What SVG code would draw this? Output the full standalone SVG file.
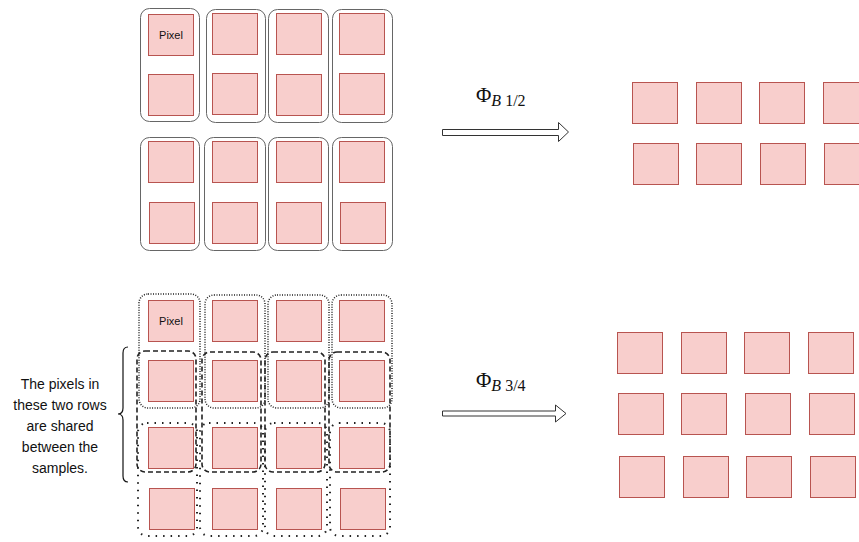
<svg xmlns="http://www.w3.org/2000/svg" width="859" height="542" viewBox="0 0 859 542">
<style>
.px{fill:#f8cecc;stroke:#b85450;stroke-width:1}
.box{fill:none;stroke:#666;stroke-width:1}
.dotA{fill:none;stroke:#222;stroke-width:1.5;stroke-dasharray:1 1.5}
.dotB{fill:none;stroke:#222;stroke-width:2;stroke-dasharray:1.5 6}
.dash{fill:none;stroke:#222;stroke-width:1.6;stroke-dasharray:5 3}
.lbl{font-family:"Liberation Sans",Arial,sans-serif;font-size:11px;fill:#111;text-anchor:middle}
.note{font-family:"Liberation Sans",Arial,sans-serif;font-size:14px;fill:#111;text-anchor:middle}
.phi{font-family:"Liberation Serif","Times New Roman",serif;fill:#111}
.arr{fill:#fff;stroke:#333;stroke-width:1}
</style>
<defs>
<rect id="p" class="px" width="45" height="41"/>
</defs>

<g id="top-left">
  <g id="tl-boxes">
    <rect class="box" x="140.5" y="8.5" width="59" height="113" rx="9"/>
    <rect class="box" x="206.5" y="9.5" width="59" height="113" rx="9"/>
    <rect class="box" x="268.5" y="9.5" width="60" height="113" rx="9"/>
    <rect class="box" x="332.5" y="9.5" width="60" height="113" rx="9"/>
    <rect class="box" x="140.5" y="137.5" width="59" height="113" rx="9"/>
    <rect class="box" x="204.5" y="137.5" width="61" height="113" rx="9"/>
    <rect class="box" x="268.5" y="137.5" width="60" height="113" rx="9"/>
    <rect class="box" x="332.5" y="137.5" width="60" height="113" rx="9"/>
  </g>
  <g id="tl-pixels">
    <use href="#p" x="148.5" y="14.5"/><use href="#p" x="212.5" y="13.5"/><use href="#p" x="276.5" y="13.5"/><use href="#p" x="339.5" y="13.5"/>
    <use href="#p" x="148.5" y="74.5"/><use href="#p" x="212.5" y="73.5"/><use href="#p" x="276.5" y="74.5"/><use href="#p" x="339.5" y="73.5"/>
    <use href="#p" x="148.5" y="141.5"/><use href="#p" x="212.5" y="141.5"/><use href="#p" x="276.5" y="141.5"/><use href="#p" x="339.5" y="141.5"/>
    <use href="#p" x="149.5" y="202.5"/><use href="#p" x="212.5" y="202.5"/><use href="#p" x="276.5" y="202.5"/><use href="#p" x="340.5" y="202.5"/>
  </g>
  <text class="lbl" x="171" y="39">Pixel</text>
</g>

<g id="bottom-left">
  <g id="bl-pixels">
    <use href="#p" x="148.5" y="300.5"/><use href="#p" x="212.5" y="300.5"/><use href="#p" x="276.5" y="300.5"/><use href="#p" x="339.5" y="300.5"/>
    <use href="#p" x="148.5" y="360.5"/><use href="#p" x="212.5" y="360.5"/><use href="#p" x="276.5" y="360.5"/><use href="#p" x="339.5" y="360.5"/>
    <use href="#p" x="148.5" y="427.5"/><use href="#p" x="212.5" y="427.5"/><use href="#p" x="276.5" y="427.5"/><use href="#p" x="339.5" y="427.5"/>
    <use href="#p" x="149.5" y="488.5"/><use href="#p" x="212.5" y="488.5"/><use href="#p" x="276.5" y="488.5"/><use href="#p" x="340.5" y="488.5"/>
  </g>
  <text class="lbl" x="171" y="325">Pixel</text>
  <g id="bl-dotted-top">
    <rect class="dotA" x="139" y="294" width="61" height="114" rx="9"/>
    <rect class="dotA" x="205" y="295" width="60" height="113" rx="9"/>
    <rect class="dotA" x="268" y="295" width="61" height="113" rx="9"/>
    <rect class="dotA" x="332" y="295" width="60" height="113" rx="9"/>
  </g>
  <g id="bl-dashed">
    <rect class="dash" x="137" y="351" width="59" height="121" rx="8"/>
    <rect class="dash" x="202" y="352" width="59" height="120" rx="8"/>
    <rect class="dash" x="265" y="352" width="60" height="120" rx="8"/>
    <rect class="dash" x="329" y="352" width="61" height="120" rx="8"/>
  </g>
  <g id="bl-dotted-bottom">
    <rect class="dotB" x="138" y="423" width="59" height="113" rx="9"/>
    <rect class="dotB" x="200" y="423" width="63" height="113" rx="9"/>
    <rect class="dotB" x="265" y="423" width="62" height="113" rx="9"/>
    <rect class="dotB" x="330" y="423" width="60" height="113" rx="9"/>
  </g>
</g>

<g id="note">
  <path d="M128,347 Q123,347 123,353 L123,408 Q123,414 118,414 Q123,414 123,420 L123,476 Q123,482 128,482" fill="none" stroke="#111" stroke-width="1.2"/>
  <text class="note" x="60" y="389">The pixels in</text>
  <text class="note" x="60" y="410">these two rows</text>
  <text class="note" x="60" y="431">are shared</text>
  <text class="note" x="60" y="452">between the</text>
  <text class="note" x="60" y="473">samples.</text>
</g>

<g id="connectors">
  <path class="arr" d="M442.5,129.5 H558.5 V122.5 L568.5,132 L558.5,141.5 V135.5 H442.5 Z"/>
  <path class="arr" d="M442.5,411 H555.5 V405 L566,413.5 L555.5,422 V416 H442.5 Z"/>
  <text class="phi" x="476" y="102" font-size="21">Φ<tspan font-size="16" dy="4" font-style="italic">B</tspan><tspan font-size="16"> 1/2</tspan></text>
  <text class="phi" x="476" y="387" font-size="21">Φ<tspan font-size="16" dy="4" font-style="italic">B</tspan><tspan font-size="16"> 3/4</tspan></text>
</g>

<g id="right-top">
  <use href="#p" x="632.5" y="82.5"/><use href="#p" x="696.5" y="82.5"/><use href="#p" x="759.5" y="82.5"/><use href="#p" x="823.5" y="82.5"/>
  <use href="#p" x="633.5" y="143.5"/><use href="#p" x="696.5" y="143.5"/><use href="#p" x="760.5" y="143.5"/><use href="#p" x="824.5" y="143.5"/>
</g>

<g id="right-bottom">
  <use href="#p" x="617.5" y="332.5"/><use href="#p" x="681.5" y="332.5"/><use href="#p" x="744.5" y="332.5"/><use href="#p" x="808.5" y="332.5"/>
  <use href="#p" x="618.5" y="393.5"/><use href="#p" x="681.5" y="393.5"/><use href="#p" x="745.5" y="393.5"/><use href="#p" x="809.5" y="393.5"/>
  <use href="#p" x="619.5" y="456.5"/><use href="#p" x="683.5" y="456.5"/><use href="#p" x="746.5" y="456.5"/><use href="#p" x="810.5" y="456.5"/>
</g>
</svg>
